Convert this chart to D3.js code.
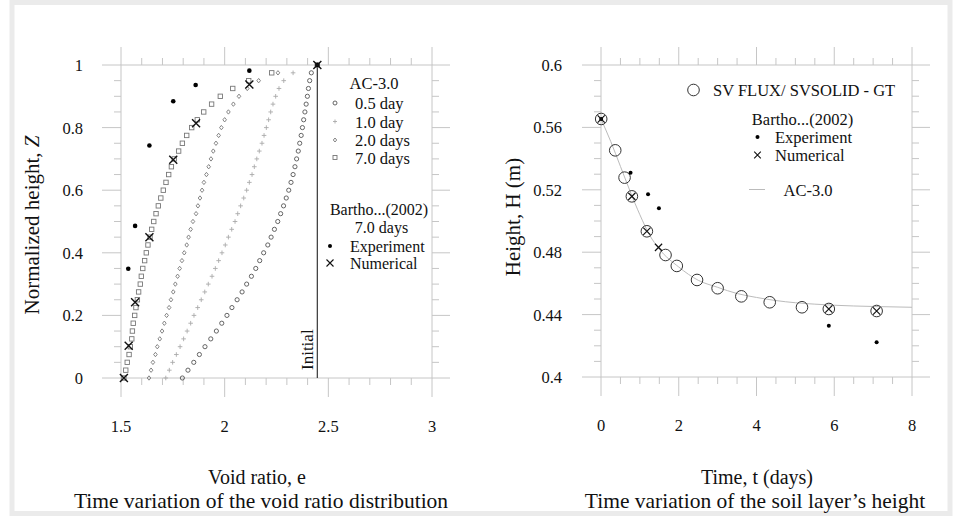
<!DOCTYPE html>
<html><head><meta charset="utf-8">
<script src="https://cdn.jsdelivr.net/npm/d3@7"></script>
<style>
body{margin:0;background:#fff}
svg{display:block}
text{font-family:"Liberation Serif","Times New Roman",serif;fill:#111}
</style>
</head><body>
<svg id="c" width="955" height="516"></svg>
<script>
// ---------- LEFT PANEL DATA ----------
const zLevels = [0,0.025,0.05,0.075,0.1,0.125,0.15,0.175,0.2,0.225,0.25,0.275,0.3,0.325,0.35,0.375,0.4,0.425,0.45,0.475,0.5,0.525,0.55,0.575,0.6,0.625,0.65,0.675,0.7,0.725,0.75,0.775,0.8,0.825,0.85,0.875,0.9,0.925,0.95,0.975,1];
const e05 = [1.796,1.823,1.851,1.878,1.905,1.933,1.960,1.986,2.011,2.035,2.060,2.084,2.106,2.129,2.150,2.169,2.188,2.208,2.224,2.240,2.256,2.270,2.284,2.297,2.309,2.320,2.330,2.339,2.347,2.355,2.362,2.369,2.375,2.381,2.387,2.393,2.399,2.404,2.410,2.418,2.447];
const e10 = [1.716,1.733,1.749,1.767,1.785,1.802,1.819,1.836,1.852,1.870,1.887,1.904,1.921,1.939,1.955,1.971,1.987,2.003,2.018,2.034,2.050,2.063,2.077,2.092,2.106,2.119,2.132,2.143,2.155,2.167,2.180,2.190,2.201,2.212,2.222,2.233,2.246,2.262,2.285,2.330,2.447];
const e20 = [1.635,1.645,1.654,1.666,1.675,1.687,1.698,1.709,1.720,1.732,1.741,1.752,1.762,1.773,1.783,1.794,1.805,1.817,1.826,1.836,1.847,1.862,1.871,1.881,1.891,1.900,1.912,1.923,1.934,1.945,1.958,1.971,1.984,2.000,2.018,2.042,2.069,2.109,2.164,2.257,2.447];
const e70 = [1.514,1.523,1.530,1.539,1.545,1.552,1.555,1.559,1.566,1.572,1.579,1.585,1.593,1.598,1.605,1.614,1.622,1.630,1.640,1.648,1.658,1.669,1.680,1.692,1.704,1.717,1.730,1.743,1.757,1.778,1.796,1.817,1.841,1.868,1.899,1.937,1.979,2.039,2.116,2.227,2.447];
const expE = [2.447,2.119,1.860,1.752,1.637,1.568,1.535];
const expZ = [1,0.982,0.936,0.884,0.743,0.486,0.349];
const numE = [2.447,2.119,1.862,1.752,1.637,1.568,1.537,1.514];
const numZ = [1,0.938,0.814,0.697,0.450,0.242,0.103,0];
const initialE = 2.447;
const leftXTicks = [1.5,2,2.5,3];
const leftXLabels = ["1.5","2","2.5","3"];
const leftYTicks = [0,0.2,0.4,0.6,0.8,1];
const leftYLabels = ["0","0.2","0.4","0.6","0.8","1"];

// ---------- RIGHT PANEL DATA ----------
const svT = [0.005,0.366,0.606,0.794,1.18,1.66,1.95,2.47,3.00,3.61,4.34,5.17,5.86,7.09];
const svH = [0.5654,0.5453,0.5278,0.5158,0.4934,0.4782,0.4712,0.4622,0.4569,0.4517,0.4479,0.4447,0.4436,0.4423];
const bExpT = [0.005,0.76,1.21,1.49,5.86,7.09];
const bExpH = [0.5654,0.531,0.5171,0.5081,0.4329,0.4222];
const bNumT = [0.005,0.794,1.18,1.48,5.86,7.09];
const bNumH = [0.5654,0.5158,0.4934,0.4831,0.4436,0.4423];
const acT = [0,0.25,0.5,0.75,1,1.25,1.5,2,2.5,3,3.5,4,4.5,5,5.5,6,7,8];
const acH = [0.5654,0.551,0.535,0.519,0.504,0.491,0.482,0.4705,0.462,0.4575,0.4535,0.451,0.449,0.4476,0.4467,0.446,0.4452,0.4447];
const rightXTicks = [0,2,4,6,8];
const rightXLabels = ["0","2","4","6","8"];
const rightYTicks = [0.4,0.44,0.48,0.52,0.56,0.6];
const rightYLabels = ["0.4","0.44","0.48","0.52","0.56","0.6"];

// ---------- DRAWING ----------
const svg = d3.select("#c");
const gridCol = "#c6c6c6";

// outer light frame
svg.append("rect").attr("x",12).attr("y",2.5).attr("width",938).attr("height",511)
  .attr("fill","none").attr("stroke","#ebebeb").attr("stroke-width",5);

function drawFrame(g, x, y, xMajor, xMinor, yMajor, yMinor, xLabels, yLabels, yLabelOff){
  const [x0,x1] = x.range(), [yb,yt] = y.range();
  const line = (a,b,c,d)=>g.append("line").attr("x1",a).attr("y1",b).attr("x2",c).attr("y2",d)
      .attr("stroke",gridCol).attr("stroke-width",1);
  xMinor.forEach(v=>{ const px=x(v); line(px,yb,px,yb+7); line(px,yt,px,yt-7); });
  xMajor.forEach(v=>{ const px=x(v); line(px,yb,px,yb+19); line(px,yt,px,yt-18); });
  yMinor.forEach(v=>{ const py=y(v); line(x0,py,x0-7,py); line(x1,py,x1+7,py); });
  yMajor.forEach(v=>{ const py=y(v); line(x0,py,x0-19,py); line(x1,py,x1+18,py); });
  g.append("rect").attr("x",x0).attr("y",yt).attr("width",x1-x0).attr("height",yb-yt)
    .attr("fill","none").attr("stroke",gridCol).attr("stroke-width",1);
  xMajor.forEach((v,i)=>g.append("text").attr("x",x(v)).attr("y",yb+54).attr("text-anchor","middle")
    .attr("font-size",16.5).text(xLabels[i]));
  yMajor.forEach((v,i)=>g.append("text").attr("x",x0-yLabelOff).attr("y",y(v)+6).attr("text-anchor","end")
    .attr("font-size",16.5).text(yLabels[i]));
}
function minorTicks(major, step){
  const out=[]; for(let i=0;i<major.length-1;i++){ const a=major[i], b=major[i+1]; const n=Math.round((b-a)/step);
    for(let k=1;k<n;k++) out.push(a+k*(b-a)/n); } return out;
}
const crossPath = s => `M${-s},${-s}L${s},${s}M${-s},${s}L${s},${-s}`;
const plusPath = s => `M${-s},0L${s},0M0,${-s}L0,${s}`;

// ===== LEFT =====
const xL = d3.scaleLinear().domain([1.5,3]).range([121,432]);
const yL = d3.scaleLinear().domain([0,1]).range([378,65]);
const gL = svg.append("g");
drawFrame(gL, xL, yL, leftXTicks, minorTicks(leftXTicks,0.1), leftYTicks, minorTicks(leftYTicks,0.05), leftXLabels, leftYLabels, 38);

// initial line
gL.append("line").attr("x1",xL(initialE)).attr("x2",xL(initialE)).attr("y1",yL(0)).attr("y2",yL(1))
  .attr("stroke","#444").attr("stroke-width",1.3);
gL.append("text").attr("transform",`translate(${xL(initialE)-4},${yL(0)-8}) rotate(-90)`)
  .attr("font-size",17).attr("text-anchor","start").text("Initial");

const pts = arr => arr.map((e,i)=>({e, z:zLevels[i]}));
// 0.5 day circles
gL.append("g").selectAll("circle").data(pts(e05)).join("circle")
  .attr("cx",d=>xL(d.e)).attr("cy",d=>yL(d.z)).attr("r",2.1)
  .attr("fill","none").attr("stroke","#555").attr("stroke-width",0.9);
// 1.0 day plus
gL.append("g").selectAll("path").data(pts(e10)).join("path")
  .attr("transform",d=>`translate(${xL(d.e)},${yL(d.z)})`).attr("d",plusPath(2.3))
  .attr("stroke","#aaa").attr("stroke-width",0.9).attr("fill","none");
// 2.0 days diamonds
gL.append("g").selectAll("path").data(pts(e20)).join("path")
  .attr("transform",d=>`translate(${xL(d.e)},${yL(d.z)})`).attr("d","M0,-2.2L1.8,0L0,2.2L-1.8,0Z")
  .attr("stroke","#777").attr("stroke-width",0.9).attr("fill","none");
// 7.0 days squares
gL.append("g").selectAll("rect").data(pts(e70)).join("rect")
  .attr("x",d=>xL(d.e)-2.2).attr("y",d=>yL(d.z)-2.2).attr("width",4.4).attr("height",4.4)
  .attr("stroke","#777").attr("stroke-width",0.9).attr("fill","none");
// experiment dots
gL.append("g").selectAll("circle").data(expE.map((e,i)=>({e,z:expZ[i]}))).join("circle")
  .attr("cx",d=>xL(d.e)).attr("cy",d=>yL(d.z)).attr("r",2.3).attr("fill","#000");
// numerical crosses
gL.append("g").selectAll("path").data(numE.map((e,i)=>({e,z:numZ[i]}))).join("path")
  .attr("transform",d=>`translate(${xL(d.e)},${yL(d.z)})`).attr("d",crossPath(4))
  .attr("stroke","#111").attr("stroke-width",1.4).attr("fill","none");

// left legend
const lg = gL.append("g");
lg.append("text").attr("x",374).attr("y",89).attr("text-anchor","middle").attr("font-size",16.5).text("AC-3.0");
const legRows = [["0.5 day",109],["1.0 day",127.5],["2.0 days",146],["7.0 days",163.5]];
legRows.forEach(([t,y])=>lg.append("text").attr("x",355).attr("y",y).attr("font-size",16.5).text(t));
lg.append("circle").attr("cx",335).attr("cy",103).attr("r",2).attr("fill","none").attr("stroke","#555").attr("stroke-width",0.9);
lg.append("path").attr("transform","translate(335,121.5)").attr("d",plusPath(2)).attr("stroke","#aaa").attr("stroke-width",0.9);
lg.append("path").attr("transform","translate(335,140)").attr("d","M0,-2L1.7,0L0,2L-1.7,0Z").attr("stroke","#777").attr("stroke-width",0.9).attr("fill","none");
lg.append("rect").attr("x",333).attr("y",155.5).attr("width",4).attr("height",4).attr("stroke","#777").attr("stroke-width",0.9).attr("fill","none");
lg.append("text").attr("x",379).attr("y",215).attr("text-anchor","middle").attr("font-size",16).text("Bartho...(2002)");
lg.append("text").attr("x",381.5).attr("y",233).attr("text-anchor","middle").attr("font-size",16).text("7.0 days");
lg.append("text").attr("x",350).attr("y",251.5).attr("font-size",16).text("Experiment");
lg.append("text").attr("x",350).attr("y",268.5).attr("font-size",16).text("Numerical");
lg.append("circle").attr("cx",330).attr("cy",246).attr("r",2).attr("fill","#000");
lg.append("path").attr("transform","translate(330,263)").attr("d",crossPath(3.5)).attr("stroke","#111").attr("stroke-width",1.1);

// left titles
svg.append("text").attr("transform","translate(39,225) rotate(-90)").attr("text-anchor","middle").attr("font-size",21)
  .html('Normalized height, <tspan font-style="italic">Z</tspan>');
svg.append("text").attr("x",257).attr("y",484).attr("text-anchor","middle").attr("font-size",20).text("Void ratio, e");
svg.append("text").attr("x",261).attr("y",507.5).attr("text-anchor","middle").attr("font-size",21.5).text("Time variation of the void ratio distribution");

// ===== RIGHT =====
const xR = d3.scaleLinear().domain([0,8]).range([601,912]);
const yR = d3.scaleLinear().domain([0.4,0.6]).range([377,65]);
const gR = svg.append("g");
drawFrame(gR, xR, yR, rightXTicks, minorTicks(rightXTicks,0.5), rightYTicks, minorTicks(rightYTicks,0.01), rightXLabels, rightYLabels, 39);

gR.append("path").datum(acT.map((t,i)=>[t,acH[i]]))
  .attr("d",d3.line().x(d=>xR(d[0])).y(d=>yR(d[1])).curve(d3.curveMonotoneX))
  .attr("fill","none").attr("stroke","#bbb").attr("stroke-width",1);
gR.append("g").selectAll("circle").data(svT.map((t,i)=>[t,svH[i]])).join("circle")
  .attr("cx",d=>xR(d[0])).attr("cy",d=>yR(d[1])).attr("r",5.8)
  .attr("fill","none").attr("stroke","#333").attr("stroke-width",1);
gR.append("g").selectAll("circle").data(bExpT.map((t,i)=>[t,bExpH[i]])).join("circle")
  .attr("cx",d=>xR(d[0])).attr("cy",d=>yR(d[1])).attr("r",2).attr("fill","#000");
gR.append("g").selectAll("path").data(bNumT.map((t,i)=>[t,bNumH[i]])).join("path")
  .attr("transform",d=>`translate(${xR(d[0])},${yR(d[1])})`).attr("d",crossPath(3.6))
  .attr("stroke","#111").attr("stroke-width",1.2).attr("fill","none");

// right legend
const rg = gR.append("g");
rg.append("circle").attr("cx",693.5).attr("cy",90).attr("r",5.8).attr("fill","none").attr("stroke","#333");
rg.append("text").attr("x",713).attr("y",96).attr("font-size",16.5).text("SV FLUX/ SVSOLID - GT");
rg.append("text").attr("x",802.5).attr("y",125).attr("text-anchor","middle").attr("font-size",16.5).text("Bartho...(2002)");
rg.append("circle").attr("cx",757.5).attr("cy",137).attr("r",2).attr("fill","#000");
rg.append("text").attr("x",775).attr("y",142.5).attr("font-size",16.5).text("Experiment");
rg.append("path").attr("transform","translate(757.5,155)").attr("d",crossPath(3.3)).attr("stroke","#111").attr("stroke-width",1.1);
rg.append("text").attr("x",775).attr("y",161).attr("font-size",16.5).text("Numerical");
rg.append("line").attr("x1",749).attr("x2",765).attr("y1",189.5).attr("y2",189.5).attr("stroke","#bbb");
rg.append("text").attr("x",783.5).attr("y",195.5).attr("font-size",16.5).text("AC-3.0");

svg.append("text").attr("transform","translate(520,217) rotate(-90)").attr("text-anchor","middle").attr("font-size",21).text("Height, H (m)");
svg.append("text").attr("x",757).attr("y",484).attr("text-anchor","middle").attr("font-size",20).text("Time, t (days)");
svg.append("text").attr("x",755).attr("y",507.5).attr("text-anchor","middle").attr("font-size",21.5).text("Time variation of the soil layer’s height");
</script>
</body></html>
